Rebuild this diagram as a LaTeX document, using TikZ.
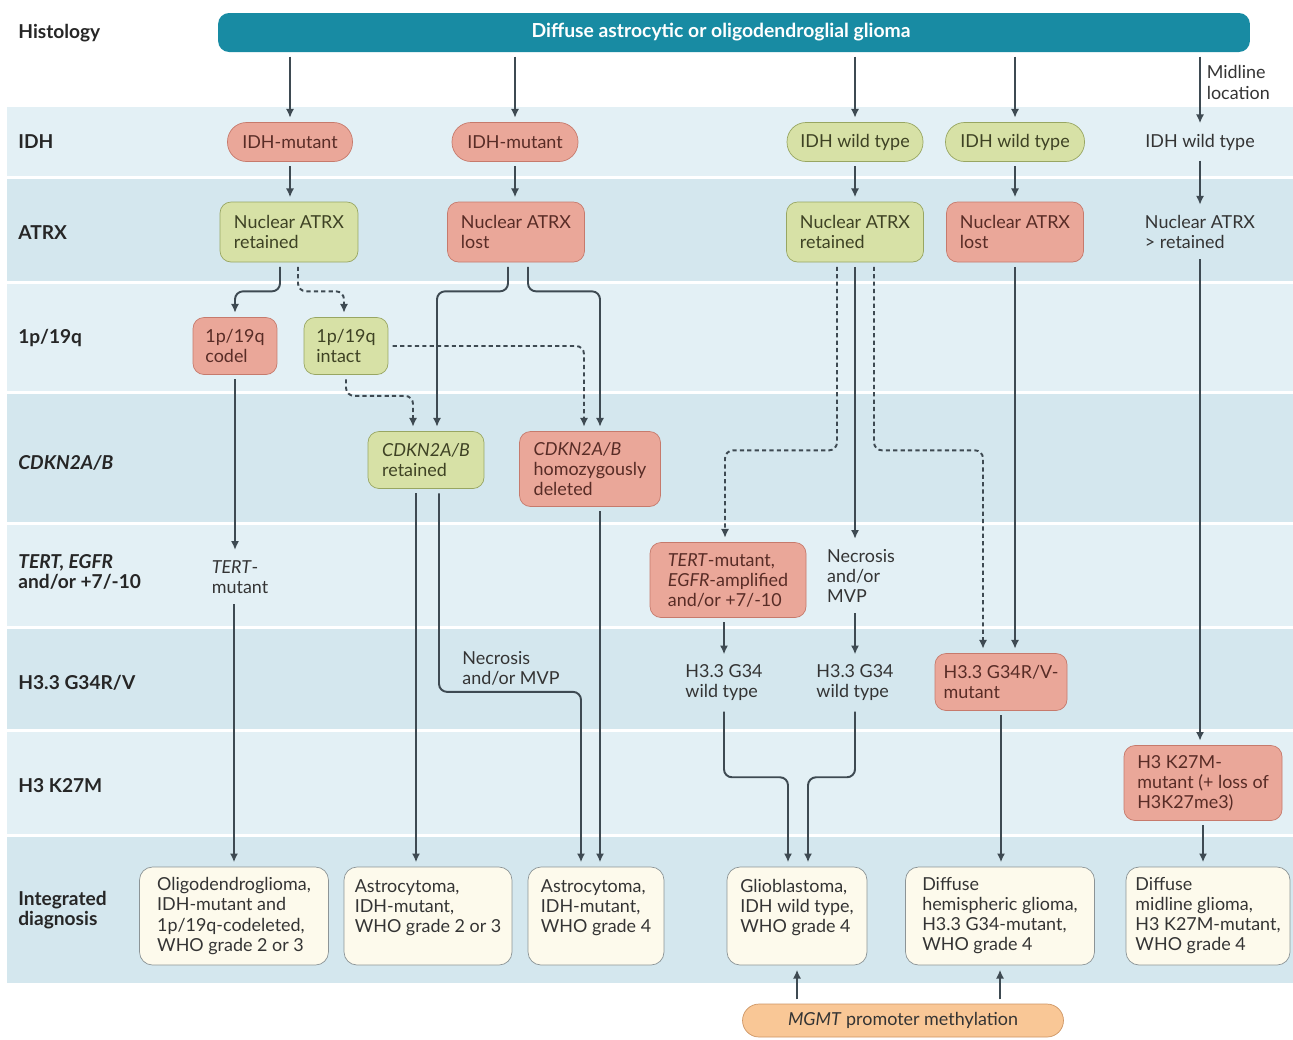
\documentclass[tikz,border=0pt]{standalone}
\usepackage{fontspec}
\setmainfont{Lato}
\usepackage{tikz}
\usetikzlibrary{arrows.meta}
\definecolor{bandlight}{RGB}{227,240,245}
\definecolor{banddark}{RGB}{212,231,238}
\definecolor{histteal}{RGB}{24,139,163}
\definecolor{redfill}{RGB}{234,167,153}
\definecolor{redline}{RGB}{198,122,108}
\definecolor{redtext}{RGB}{88,44,38}
\definecolor{greenfill}{RGB}{215,225,166}
\definecolor{greenline}{RGB}{152,166,98}
\definecolor{greentext}{RGB}{62,66,36}
\definecolor{creamfill}{RGB}{253,250,236}
\definecolor{creamline}{RGB}{140,148,150}
\definecolor{mgmtfill}{RGB}{249,199,150}
\definecolor{mgmtline}{RGB}{206,150,100}
\definecolor{arrowgrey}{RGB}{62,74,82}
\definecolor{textgrey}{RGB}{52,52,52}
\tikzset{
every node/.style={font=\fontsize{10.2}{11.4}\selectfont, text=textgrey},
arr/.style={draw=arrowgrey, line width=1.1pt, -{Latex[length=5pt,width=4.6pt]}, shorten <=2.5pt, shorten >=2.5pt, rounded corners=0.16cm},
brokenarr/.style={arr, dash pattern=on 2.4pt off 1.8pt},
lbl/.style={anchor=west, inner xsep=0pt, align=left, text=black!85, font=\bfseries\fontsize{10.9}{11.4}\selectfont},
plain/.style={align=left},
redbox/.style={draw=redline, fill=redfill, text=redtext, rounded corners=0.22cm, align=left, inner xsep=0.1cm},
greenbox/.style={draw=greenline, fill=greenfill, text=greentext, rounded corners=0.22cm, align=left, inner xsep=0.1cm},
redpill/.style={redbox, rounded corners=0.38cm, align=center, minimum height=0.78cm},
greenpill/.style={greenbox, rounded corners=0.38cm, align=center, minimum height=0.78cm},
dxbox/.style={draw=creamline, fill=creamfill, rounded corners=0.26cm, align=left, inner xsep=0.1cm, minimum height=1.96cm},
histbar/.style={fill=histteal, text=white, rounded corners=0.22cm, minimum width=20.64cm, minimum height=0.78cm, font=\bfseries\fontsize{11}{12}\selectfont},
mgmtbox/.style={draw=mgmtline, fill=mgmtfill, rounded corners=0.33cm, minimum width=6.42cm, minimum height=0.66cm}
}
\begin{document}
\begin{tikzpicture}[x=0.02cm, y=-0.02cm]

                \useasboundingbox (0,0) rectangle (1293,1039);
                \fill[white] (0,0) rectangle (1293,1039);
                \fill[bandlight] (7,106.5) rectangle (1293,175.5);
                \fill[banddark] (7,178.5) rectangle (1293,280.5);
                \fill[bandlight] (7,283.5) rectangle (1293,390.5);
                \fill[banddark] (7,393.5) rectangle (1293,521.5);
                \fill[bandlight] (7,524.5) rectangle (1293,625.5);
                \fill[banddark] (7,628.5) rectangle (1293,728.5);
                \fill[bandlight] (7,731.5) rectangle (1293,833.5);
                \fill[banddark] (7,836.5) rectangle (1293,983);

                \node[lbl] (lhist) at (18,33) {Histology};
                \node[lbl] (lidh) at (18,142) {IDH};
                \node[lbl] (latrx) at (18,233) {ATRX};
                \node[lbl] (lcodel) at (18,338) {1p/19q};
                \node[lbl] (lcdkn) at (18,463) {\textit{CDKN2A/B}};
                \node[lbl] (ltert) at (18,572) {\textit{TERT, EGFR}\\and/or +7/-10};
                \node[lbl] (lgthree) at (18,683) {H3.3 G34R/V};
                \node[lbl] (lkmut) at (18,786) {H3 K27M};
                \node[lbl] (ldx) at (18,910) {Integrated\\diagnosis};

                \node[histbar] (hist) at (734,32.5) {\hspace*{-0.52cm}Diffuse astrocytic or oligodendroglial glioma};

                \node[redpill, minimum width=2.5cm] (idh1) at (290,142) {IDH-mutant};
                \node[redpill, minimum width=2.52cm] (idh2) at (515,142) {IDH-mutant};
                \node[greenpill, minimum width=2.72cm] (idh3) at (855,142) {IDH wild type};
                \node[greenpill, minimum width=2.78cm] (idh4) at (1015,142) {IDH wild type};
                \node[plain] (idh5) at (1200,142) {IDH wild type};

                \node[greenbox, minimum width=2.76cm, minimum height=1.2cm] (atrx1) at (289,232) {Nuclear ATRX\\retained};
                \node[redbox, minimum width=2.74cm, minimum height=1.2cm] (atrx2) at (516,232) {Nuclear ATRX\\lost};
                \node[greenbox, minimum width=2.74cm, minimum height=1.2cm] (atrx3) at (855,232) {Nuclear ATRX\\retained};
                \node[redbox, minimum width=2.74cm, minimum height=1.2cm] (atrx4) at (1015,232) {Nuclear ATRX\\lost};
                \node[plain] (atrx5) at (1200,232) {Nuclear ATRX\\> retained};

                \node[redbox, minimum width=1.68cm, minimum height=1.14cm] (codel) at (235,346) {1p/19q\\codel};
                \node[greenbox, minimum width=1.68cm, minimum height=1.14cm] (intact) at (346,346) {1p/19q\\intact};

                \node[greenbox, minimum width=2.32cm, minimum height=1.14cm] (cdknret) at (426,460) {\textit{CDKN2A/B}\\retained};
                \node[redbox, minimum width=2.82cm, minimum height=1.5cm] (cdkndel) at (590,469) {\textit{CDKN2A/B}\\homozygously\\deleted};

                \node[plain] (tertmut) at (240,577) {\textit{TERT}-\\mutant};
                \node[redbox, minimum width=3.12cm, minimum height=1.5cm] (tertegfr) at (728,580) {\textit{TERT}-mutant,\\\textit{EGFR}-amplified\\and/or +7/-10};
                \node[plain] (necmvp2) at (861,576) {Necrosis\\and/or\\MVP};

                \node[plain] (necmvp1) at (511,668) {Necrosis\\and/or MVP};
                \node[plain] (gwt1) at (724,683) {H3.3 G34\\wild type};
                \node[plain] (gwt2) at (855,683) {H3.3 G34\\wild type};
                \node[redbox, minimum width=2.64cm, minimum height=1.14cm] (gmut) at (1001,682) {H3.3 G34R/V-\\mutant};

                \node[redbox, minimum width=3.16cm, minimum height=1.5cm] (kmut) at (1203,783) {H3 K27M-\\mutant (+ loss of\\H3K27me3)};

                \node[dxbox, minimum width=3.78cm] (dx1) at (234,916) {Oligodendroglioma,\\IDH-mutant and\\1p/19q-codeleted,\\WHO grade 2 or 3};
                \node[dxbox, minimum width=3.36cm] (dx2) at (428,916) {Astrocytoma,\\IDH-mutant,\\WHO grade 2 or 3\\\phantom{W}};
                \node[dxbox, minimum width=2.72cm] (dx3) at (596,916) {Astrocytoma,\\IDH-mutant,\\WHO grade 4\\\phantom{W}};
                \node[dxbox, minimum width=2.8cm] (dx4) at (797,916) {Glioblastoma,\\IDH wild type,\\WHO grade 4\\\phantom{W}};
                \node[dxbox, minimum width=3.78cm] (dx5) at (1000,916) {Diffuse\\hemispheric glioma,\\H3.3 G34-mutant,\\WHO grade 4};
                \node[dxbox, minimum width=3.28cm] (dx6) at (1208,916) {Diffuse\\midline glioma,\\H3 K27M-mutant,\\WHO grade 4};

                \node[mgmtbox] (mgmt) at (903,1020.5) {\textit{MGMT} promoter methylation};

                \draw[arr] (hist.south -| idh1.north) -- (idh1.north);
                \draw[arr] (hist.south -| idh2.north) -- (idh2.north);
                \draw[arr] (hist.south -| idh3.north) -- (idh3.north);
                \draw[arr] (hist.south -| idh4.north) -- (idh4.north);
                \draw[arr] (hist.south -| idh5.north) -- (idh5.north) node[pos=0.4, right, align=left] {Midline\\location};

                \draw[arr] (idh1.south) -- (idh1.south |- atrx1.north);
                \draw[arr] (idh2.south) -- (idh2.south |- atrx2.north);
                \draw[arr] (idh3.south) -- (idh3.south |- atrx3.north);
                \draw[arr] (idh4.south) -- (idh4.south |- atrx4.north);
                \draw[arr] (idh5.south) -- (idh5.south |- atrx5.north);

                \draw[arr] ([xshift=-0.18cm]atrx1.south) -- ++(0,29) -| (codel.north);
                \draw[brokenarr] ([xshift=0.18cm]atrx1.south) -- ++(0,29) -| ([xshift=-0.04cm]intact.north);
                \draw[arr] ([xshift=-0.16cm]atrx2.south) -- ++(0,29) -| ([xshift=0.22cm]cdknret.north);
                \draw[arr] ([xshift=0.24cm]atrx2.south) -- ++(0,29) -| ([xshift=0.2cm]cdkndel.north);
                \draw[brokenarr] (intact.south) -- ++(0,21) -| ([xshift=-0.26cm]cdknret.north);
                \draw[brokenarr] (intact.east) -| ([xshift=-0.12cm]cdkndel.north);

                \draw[brokenarr] ([xshift=-0.36cm]atrx3.south) -- ++(0,188) -| ([xshift=-0.06cm]tertegfr.north);
                \draw[arr] (atrx3.south) -- (atrx3.south |- necmvp2.north);
                \draw[brokenarr] ([xshift=0.38cm]atrx3.south) -- ++(0,188) -| ([xshift=-0.36cm]gmut.north);
                \draw[arr] (atrx4.south) -- (atrx4.south |- gmut.north);
                \draw[arr] (atrx5.south) -- (atrx5.south |- kmut.north);

                \draw[arr] (codel.south) -- (codel.south |- tertmut.north);
                \draw[arr] (tertmut.south -| dx1.north) -- (dx1.north);
                \draw[arr] ([xshift=-0.2cm]cdknret.south) -- ([xshift=-0.2cm]cdknret.south |- dx2.north);
                \draw[arr] ([xshift=0.26cm]cdknret.south) -- ++(0,203) -| ([xshift=-0.3cm]dx3.north);
                \draw[arr] ([xshift=0.2cm]cdkndel.south) -- ([xshift=0.2cm]cdkndel.south |- dx3.north);

                \draw[arr] (tertegfr.south -| gwt1.north) -- (gwt1.north);
                \draw[arr] (necmvp2.south -| gwt2.north) -- (gwt2.north);
                \draw[arr] (gwt1.south) -- ++(0,70) -| ([xshift=-0.18cm]dx4.north);
                \draw[arr] (gwt2.south) -- ++(0,70) -| ([xshift=0.22cm]dx4.north);
                \draw[arr] (gmut.south) -- (gmut.south |- dx5.north);
                \draw[arr] (kmut.south) -- (kmut.south |- dx6.north);

                \draw[arr] (mgmt.north -| dx4.south) -- (dx4.south);
                \draw[arr] (mgmt.north -| dx5.south) -- (dx5.south);

\end{tikzpicture}
\end{document}
